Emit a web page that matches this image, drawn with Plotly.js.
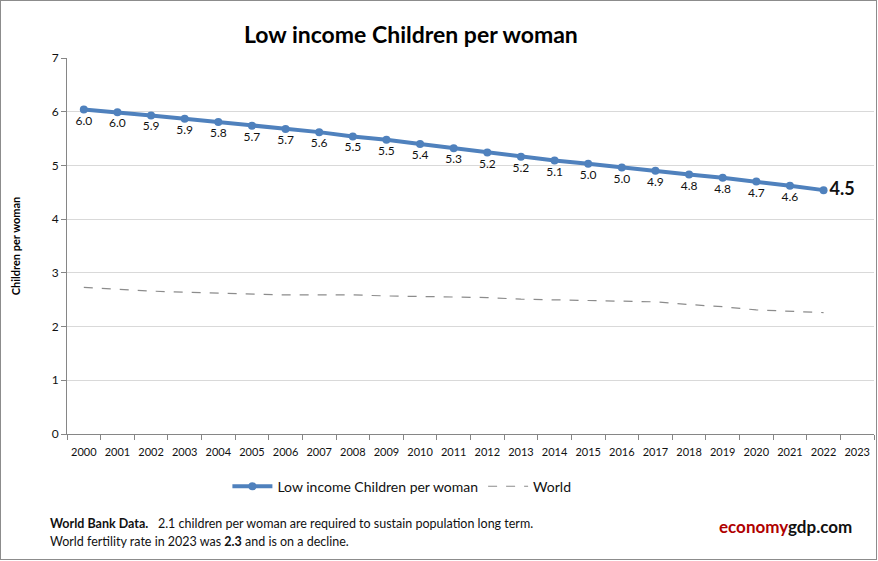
<!DOCTYPE html>
<html>
<head>
<meta charset="utf-8">
<script src="https://cdn.plot.ly/plotly-3.0.1.min.js"></script>
<style>
  body { margin: 0; background: #fff; }
  #wrap { position: relative; width: 878px; height: 561px; }
  #chart { width: 878px; height: 561px; }
  #frame { position: absolute; left: 0; top: 0; width: 875px; height: 558px; border: 1px solid #8c8c8c; pointer-events: none; }
</style>
</head>
<body>
<div id="wrap">
  <div id="chart"></div>
  <div id="frame"></div>
</div>
<script>
// years shown on the axis (2023 has no data yet)
const years = ['2000','2001','2002','2003','2004','2005','2006','2007','2008','2009','2010','2011',
  '2012','2013','2014','2015','2016','2017','2018','2019','2020','2021','2022','2023'];
const dataYears = years.slice(0, 23);

// low income countries, children per woman
const lowIncome = [6.04, 5.99, 5.93, 5.87, 5.81, 5.74, 5.68, 5.62, 5.54, 5.48, 5.40, 5.32,
  5.24, 5.16, 5.09, 5.03, 4.96, 4.90, 4.83, 4.77, 4.70, 4.62, 4.54];

// world, children per woman
const world = [2.73, 2.69, 2.66, 2.64, 2.62, 2.60, 2.59, 2.59, 2.59, 2.57, 2.56, 2.55,
  2.54, 2.51, 2.50, 2.49, 2.48, 2.46, 2.41, 2.37, 2.31, 2.28, 2.26];

const FONT = 'Lato, "Liberation Sans", sans-serif';

// labels: last one is bold and sits to the right of the point
const labels = lowIncome.map((v, i) =>
  i === lowIncome.length - 1 ? '<b>' + v.toFixed(1) + '</b>' : v.toFixed(1));
const labelPos = lowIncome.map((v, i) =>
  i === lowIncome.length - 1 ? 'middle right' : 'bottom center');
const labelSize = lowIncome.map((v, i) => i === lowIncome.length - 1 ? 18 : 12);

const traces = [
  {
    x: dataYears,
    y: lowIncome,
    type: 'scatter',
    mode: 'lines+markers+text',
    name: 'Low income Children per woman',
    line: { color: '#4f81bd', width: 4 },
    marker: { color: '#4f81bd', size: 8 },
    text: labels,
    textposition: labelPos,
    textfont: { family: FONT, size: labelSize, color: '#111' },
    cliponaxis: false
  },
  {
    x: dataYears,
    y: world,
    type: 'scatter',
    mode: 'lines',
    name: 'World',
    line: { color: '#8c8c8c', width: 1.2, dash: 'dash' }
  }
];

const layout = {
  width: 878,
  height: 561,
  margin: { t: 58, l: 67, r: 4, b: 127 },
  paper_bgcolor: '#fff',
  plot_bgcolor: '#fff',
  font: { family: FONT, size: 12, color: '#111' },
  title: {
    text: '<b>Low income Children per woman</b>',
    font: { family: FONT, size: 23, color: '#000' },
    xref: 'container',
    x: 0.468,
    y: 0.938,
    xanchor: 'center',
    yanchor: 'middle'
  },
  xaxis: {
    type: 'category',
    categoryorder: 'array',
    categoryarray: years,
    range: [-0.5, 23.5],
    tickson: 'boundaries',
    ticks: 'outside',
    ticklen: 5,
    tickcolor: '#868686',
    tickangle: 0,
    ticklabelstandoff: 8,
    showline: true,
    linecolor: '#868686',
    linewidth: 1,
    showgrid: false,
    tickfont: { family: FONT, size: 11, color: '#111' },
    fixedrange: true
  },
  yaxis: {
    title: {
      text: '<b>Children per woman</b>',
      font: { family: FONT, size: 11, color: '#000' },
      standoff: 28
    },
    range: [0, 7],
    dtick: 1,
    ticks: 'outside',
    ticklen: 5,
    tickcolor: '#868686',
    showline: true,
    linecolor: '#868686',
    linewidth: 1,
    gridcolor: '#d9d9d9',
    zeroline: false,
    tickfont: { family: FONT, size: 12, color: '#111' },
    fixedrange: true
  },
  showlegend: true,
  legend: {
    orientation: 'h',
    x: 0.415,
    xanchor: 'center',
    y: -0.14,
    yanchor: 'middle',
    font: { family: FONT, size: 14, color: '#111' },
    itemwidth: 40
  },
  annotations: [
    {
      xref: 'paper', yref: 'paper', x: -0.0235, y: -0.237,
      xanchor: 'left', yanchor: 'middle', showarrow: false, align: 'left',
      text: '<b>World Bank Data.</b>   2.1 children per woman are required to sustain population long term.',
      font: { family: FONT, size: 12.5, color: '#111' }
    },
    {
      xref: 'paper', yref: 'paper', x: -0.0235, y: -0.285,
      xanchor: 'left', yanchor: 'middle', showarrow: false, align: 'left',
      text: 'World fertility rate in 2023 was <b>2.3</b> and is on a decline.',
      font: { family: FONT, size: 12.5, color: '#111' }
    },
    {
      xref: 'paper', yref: 'paper', x: 0.975, y: -0.247,
      xanchor: 'right', yanchor: 'middle', showarrow: false,
      text: '<b><span style="color:#b00000">economy</span>gdp.com</b>',
      font: { family: FONT, size: 17, color: '#111' }
    }
  ]
};

Plotly.newPlot('chart', traces, layout, { displayModeBar: false, staticPlot: true });
</script>
</body>
</html>
